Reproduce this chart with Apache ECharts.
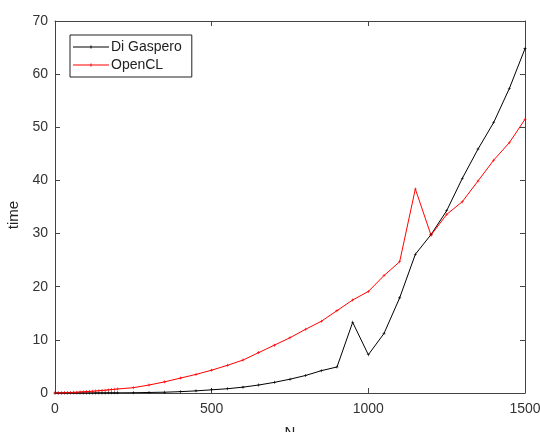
<!DOCTYPE html>
<html>
<head>
  <meta charset="UTF-8">
  <title>time vs N</title>
  <script src="https://cdn.jsdelivr.net/npm/echarts@6/dist/echarts.min.js"></script>
  <style>
    html, body { margin: 0; padding: 0; background: #fff; }
    #main { width: 540px; height: 432px; }
  </style>
</head>
<body>
<div id="main"></div>
<script type="text/javascript">
  // N values: dense from 0 to 200, then every 50
  var nValues = [0, 10, 20, 30, 40, 50, 60, 70, 80, 90, 100, 110, 120, 130, 140, 150, 160, 170, 180, 190, 200,
    250, 300, 350, 400, 450, 500, 550, 600, 650, 700, 750, 800, 850, 900, 950, 1000,
    1050, 1100, 1150, 1200, 1250, 1300, 1350, 1400, 1450, 1500];

  var diGaspero = [0, 0, 0, 0, 0, 0, 0, 0, 0.01, 0.01, 0.01, 0.01, 0.01, 0.02, 0.02, 0.02, 0.02, 0.03, 0.03, 0.03, 0.03,
    0.05, 0.1, 0.15, 0.25, 0.4, 0.6, 0.8, 1.1, 1.5, 2.0, 2.6, 3.3, 4.2, 4.9, 13.3, 7.2,
    11.2, 17.9, 26.1, 29.8, 34.3, 40.4, 45.9, 50.9, 57.3, 64.8];

  var openCL = [0, 0.01, 0.02, 0.04, 0.06, 0.09, 0.12, 0.15, 0.19, 0.22, 0.26, 0.3, 0.34, 0.38, 0.43, 0.48, 0.53, 0.58, 0.64, 0.7, 0.76,
    1.0, 1.5, 2.1, 2.8, 3.5, 4.3, 5.2, 6.2, 7.6, 9.0, 10.4, 12.0, 13.5, 15.5, 17.5, 19.1,
    22.1, 24.7, 38.4, 29.7, 33.6, 36.0, 39.9, 43.8, 47.1, 51.5];

  var xTicks = [0, 500, 1000, 1500];
  var yTicks = [0, 10, 20, 30, 40, 50, 60, 70];

  function pairs(ys) {
    return nValues.map(function(n, i) { return [n, ys[i]]; });
  }

  var plus = 'path://M4,0H6V4H10V6H6V10H4V6H0V4H4Z';
  // thin line with a small tick in the middle, for the legend
  var legendIcon = 'path://M0,1H36V2H0Z M17.5,0H18.5V3H17.5Z';
  var axisColor = '#444';
  var font = 'Liberation Sans, Arial, sans-serif';
  var tick = { show: true, inside: true, length: 5, lineStyle: { color: axisColor } };
  var line = { show: true, onZero: false, lineStyle: { color: axisColor } };

  var myChart = echarts.init(document.getElementById('main'));

  var option = {
    animation: false,
    grid: { left: 55, right: 15, top: 21, bottom: 39, containLabel: false, outerBoundsMode: 'none' },
    legend: {
      orient: 'vertical',
      left: 70,
      top: 35,
      padding: [5, 10, 5, 3],
      itemGap: 4,
      itemWidth: 36,
      itemHeight: 3,
      icon: legendIcon,
      borderColor: '#222',
      borderWidth: 1,
      borderRadius: 0,
      textStyle: { fontFamily: font, fontSize: 14, color: '#222', padding: [0, 0, 0, -3] },
      data: ['Di Gaspero', 'OpenCL']
    },
    xAxis: [{
      type: 'value',
      min: 0, max: 1500, interval: 500,
      name: 'N',
      nameLocation: 'middle',
      nameGap: 32,
      nameTextStyle: { fontFamily: font, fontSize: 15, color: '#222' },
      axisLine: line,
      axisTick: tick,
      axisLabel: { fontFamily: font, fontSize: 14, color: '#333', margin: 9,
        customValues: xTicks, formatter: function(v) { return String(v); } },
      splitLine: { show: false }
    }, {
      type: 'value',
      position: 'top',
      min: 0, max: 1500, interval: 500,
      axisLine: line,
      axisTick: tick,
      axisLabel: { show: false },
      splitLine: { show: false }
    }],
    yAxis: [{
      type: 'value',
      min: 0, max: 70, interval: 10,
      name: 'time',
      nameLocation: 'middle',
      nameGap: 24,
      nameTextStyle: { fontFamily: font, fontSize: 15, color: '#222', padding: [0, 16, 0, 0] },
      axisLine: line,
      axisTick: tick,
      axisLabel: { fontFamily: font, fontSize: 14, color: '#333', margin: 7,
        customValues: yTicks },
      splitLine: { show: false }
    }, {
      type: 'value',
      position: 'right',
      min: 0, max: 70, interval: 10,
      axisLine: line,
      axisTick: tick,
      axisLabel: { show: false },
      splitLine: { show: false }
    }],
    series: [{
      name: 'Di Gaspero',
      type: 'line',
      data: pairs(diGaspero),
      symbol: plus,
      symbolSize: 3,
      itemStyle: { color: '#000' },
      lineStyle: { color: '#000', width: 1 }
    }, {
      name: 'OpenCL',
      type: 'line',
      data: pairs(openCL),
      symbol: plus,
      symbolSize: 3,
      itemStyle: { color: '#ff0000' },
      lineStyle: { color: '#ff0000', width: 1 }
    }]
  };

  myChart.setOption(option);
</script>
</body>
</html>
